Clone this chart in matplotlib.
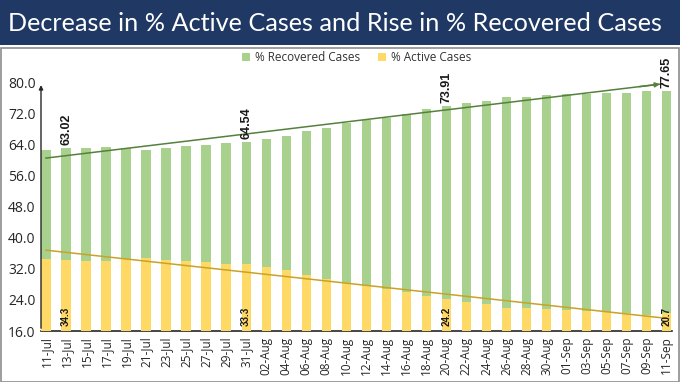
import matplotlib
matplotlib.use('Agg')
import matplotlib.pyplot as plt
from matplotlib.patches import Rectangle

# 日期（每两天一次）
dates = ['11-Jul', '13-Jul', '15-Jul', '17-Jul', '19-Jul', '21-Jul', '23-Jul', '25-Jul',
         '27-Jul', '29-Jul', '31-Jul', '02-Aug', '04-Aug', '06-Aug', '08-Aug', '10-Aug',
         '12-Aug', '14-Aug', '16-Aug', '18-Aug', '20-Aug', '22-Aug', '24-Aug', '26-Aug',
         '28-Aug', '30-Aug', '01-Sep', '03-Sep', '05-Sep', '07-Sep', '09-Sep', '11-Sep']
recovered = [62.7, 63.02, 63.2, 63.4, 63.0, 62.7, 63.1, 63.6, 63.8, 64.4, 64.54, 65.4,
             66.2, 67.5, 68.3, 69.4, 70.2, 70.9, 71.9, 73.1, 73.91, 74.7, 75.3, 76.2,
             76.2, 76.6, 76.9, 77.0, 77.2, 77.3, 77.7, 77.65]
active = [34.5, 34.3, 34.1, 34.1, 34.6, 34.9, 34.3, 34.05, 33.7, 33.3, 33.3, 32.5,
          31.6, 30.3, 29.5, 28.3, 27.6, 26.9, 26.1, 24.9, 24.2, 23.5, 23.0, 22.0,
          21.8, 21.6, 21.4, 21.1, 20.8, 20.6, 20.2, 20.7]
labelled = [1, 10, 20, 31]
# 趋势线端点 (x 索引, 数值)
trend_rec = [(0, 60.5), (30.8, 79.6)]
trend_act = [(0, 36.8), (31.1, 19.2)]
yticks = [16, 24, 32, 40, 48, 56, 64, 72, 80]

green = '#A9D18E'
yellow = '#FFD966'

fig = plt.figure(figsize=(6.8, 3.82), dpi=100)
fig.patch.set_facecolor('white')

# 标题栏
fig.patches.append(Rectangle((0, 0.882), 1, 0.118, transform=fig.transFigure,
                             facecolor='#1F3864', edgecolor='none', zorder=0))
fig.patches.append(Rectangle((0.001, 0.0), 0.998, 0.874, transform=fig.transFigure,
                             facecolor='none', edgecolor='#8C8C8C', lw=1.2, zorder=0))
fig.text(0.012, 0.938, 'Decrease in % Active Cases and Rise in % Recovered Cases',
         color='white', fontsize=18.2, family='Lato', va='center', ha='left')

ax = fig.add_axes([0.0603, 0.1335, 0.9274, 0.6511])
x = list(range(len(dates)))
ax.bar(x, recovered, width=0.47, bottom=0, color=green, label='% Recovered Cases', zorder=2)
ax.bar(x, active, width=0.47, bottom=0, color=yellow, label='% Active Cases', zorder=3)

ax.plot([p[0] for p in trend_rec], [p[1] for p in trend_rec], color='#55803D', lw=1.1, zorder=4)
ax.annotate('', xy=trend_rec[1], xytext=(29.5, trend_rec[0][1] + (trend_rec[1][1] - trend_rec[0][1]) * 29.5 / 30.8),
            arrowprops=dict(arrowstyle='-|>', color='#55803D', lw=1.1, mutation_scale=7), zorder=4)
ax.plot([p[0] for p in trend_act], [p[1] for p in trend_act], color='#C9A227', lw=1.1, zorder=4)

for i in labelled:
    ax.text(i, recovered[i] + 0.8, '%.2f' % recovered[i], rotation=90, ha='center', va='bottom',
            fontsize=9, fontweight='bold', family='Liberation Sans', color='#1A1A1A',
            zorder=5, clip_on=False)
    ax.text(i, 17.4, '%.1f' % active[i], rotation=90, ha='center', va='bottom',
            fontsize=7, fontweight='bold', family='Liberation Sans', color='#1A1A1A', zorder=5)

ax.set_xlim(-0.25, 31.25)
ax.set_ylim(16, 80)
ax.set_yticks(yticks)
ax.set_yticklabels(['%.1f' % v for v in yticks], family='Open Sans', fontsize=10, color='#262626')
ax.set_xticks(x)
ax.set_xticklabels(dates, rotation=90, family='Open Sans', fontsize=8.5, color='#262626')
ax.tick_params(axis='both', length=0, pad=4)
for s in ['top', 'right', 'left']:
    ax.spines[s].set_visible(False)
ax.spines['bottom'].set_color('#262626')
ax.spines['bottom'].set_linewidth(1.2)
# 带箭头的纵轴
ax.annotate('', xy=(0, 1.0), xytext=(0, 0), xycoords='axes fraction',
            arrowprops=dict(arrowstyle='-|>', color='#262626', lw=1.0, mutation_scale=6))

leg = ax.legend(loc='lower center', bbox_to_anchor=(0.5, 1.03), ncol=2, frameon=False,
                prop={'family': 'Open Sans', 'size': 8.5}, handlelength=0.7, handleheight=0.7,
                handletextpad=0.4, columnspacing=1.5)
for t in leg.get_texts():
    t.set_color('#333333')

fig.savefig('out.png', dpi=100)
